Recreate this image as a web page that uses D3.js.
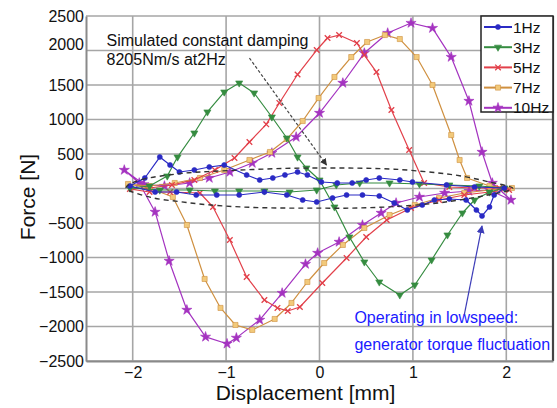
<!DOCTYPE html>
<html>
<head>
<meta charset="utf-8">
<script src="https://cdn.jsdelivr.net/npm/d3@7"></script>
<style>
  body { margin: 0; background: #fff; }
  svg { display: block; font-family: "Liberation Sans", Arial, sans-serif; }
</style>
</head>
<body>
<svg id="chart" width="557" height="408"></svg>
<script>
// tick labels
const xTicks = [-2, -1, 0, 1, 2];
const yTicks = [-2500, -2000, -1500, -1000, -500, 0, 500, 1000, 1500, 2000, 2500];

const seriesNames = ["1Hz", "3Hz", "5Hz", "7Hz", "10Hz"];

const hz1 = [[-2.03,36],[-1.87,152],[-1.71,456],[-1.60,340],[-1.50,239],[-1.34,268],[-1.18,312],[-1.02,340],
  [-0.78,196],[-0.64,123],[-0.50,152],[-0.37,196],[-0.235,239],[-0.13,196],[0.02,94],[0.19,80],[0.35,80],
  [0.50,123],[0.64,152],[0.86,123],[0.995,94],[1.36,51],[1.66,22],[1.98,7],
  [1.87,-94],[1.82,-268],[1.74,-398],[1.68,-312],[1.57,-167],[1.39,-152],[1.23,-167],[1.10,-239],[0.94,-312],
  [0.80,-210],[0.64,-109],[0.46,-94],[0.29,-94],[0.14,-138],[-0.03,-196],[-0.18,-167],[-0.35,-94],[-0.59,-51],
  [-0.86,-94],[-1.10,-94],[-1.32,-94],[-1.53,-51],[-1.76,-51]];

const hz3 = [[-2.03,7],[-1.82,36],[-1.63,181],[-1.52,456],[-1.34,804],[-1.20,1109],[-1.02,1398],[-0.86,1529],
  [-0.70,1384],[-0.51,1036],[-0.35,732],[-0.235,456],[-0.14,297],[0,123],[0.16,-268],[0.32,-703],[0.48,-1065],
  [0.64,-1355],[0.86,-1543],[1.02,-1398],[1.20,-1036],[1.37,-674],[1.53,-355],[1.66,-167],[1.82,-51],[1.98,7],
  [1.71,36],[1.39,51],[1.07,65],[0.75,80],[0.43,80],[0.18,51],[-0.03,-22],[-0.32,-51],[-0.59,-36],[-0.86,-36],
  [-1.12,-36],[-1.39,-22],[-1.71,-22]];

const hz5 = [[-2.03,-7],[-1.82,7],[-1.58,51],[-1.34,123],[-1.12,268],[-0.91,442],[-0.75,674],[-0.57,930],
  [-0.43,1240],[-0.235,1652],[-0.03,2007],[0.086,2181],[0.21,2224],[0.40,2108],[0.48,1934],[0.61,1688],
  [0.77,1138],[0.96,558],[1.12,80],[1.39,22],[1.66,7],[1.925,7],[2.03,-22],
  [1.82,-51],[1.55,-94],[1.28,-167],[0.98,-283],[0.72,-456],[0.50,-703],[0.29,-1007],[0.03,-1369],
  [-0.21,-1717],[-0.34,-1775],[-0.45,-1731],[-0.59,-1616],[-0.78,-1282],[-0.96,-746],[-1.14,-268],
  [-1.28,-65],[-1.60,-51],[-1.82,-51]];

const hz7 = [[-2.05,65],[-1.82,36],[-1.55,80],[-1.28,152],[-1.02,268],[-0.75,413],[-0.53,529],[-0.35,717],
  [-0.18,978],[-0.01,1311],[0.16,1616],[0.34,1905],[0.51,2123],[0.70,2224],[0.86,2166],[1.04,1905],
  [1.21,1500],[1.41,775],[1.50,413],[1.58,152],[1.82,36],[2.06,7],
  [1.82,-22],[1.55,-65],[1.28,-138],[1.02,-239],[0.75,-384],[0.48,-572],[0.25,-818],[0.05,-1080],
  [-0.13,-1355],[-0.30,-1659],[-0.48,-1891],[-0.72,-2050],[-0.90,-1978],[-1.06,-1731],[-1.23,-1311],
  [-1.42,-529],[-1.57,-123],[-1.82,7]];

const hz10 = [[-2.09,268],[-1.93,80],[-1.76,-340],[-1.61,-1050],[-1.42,-1760],[-1.22,-2150],[-0.99,-2250],
  [-0.89,-2165],[-0.64,-1905],[-0.40,-1515],[-0.15,-1095],[-0.02,-935],[0.21,-775],[0.46,-530],[0.66,-355],
  [0.82,-210],[1.07,-123],[1.34,-65],[1.60,-36],[1.82,-22],[2.05,-167],
  [1.85,80],[1.74,529],[1.60,1268],[1.41,1905],[1.21,2325],[0.98,2398],[0.73,2253],[0.48,1963],[0.25,1529],
  [0,1094],[-0.25,746],[-0.51,514],[-0.72,369],[-0.96,239],[-1.18,152],[-1.39,80],[-1.66,36],[-1.88,60]];

// simulated constant damping loop (dashed)
const dampSim = [[-2.07,0],[-1.9,130],[-1.5,215],[-1.2,245],[-0.8,270],[-0.4,290],[0,297],[0.4,295],[0.8,280],
  [1.2,235],[1.5,185],[1.8,100],[2.07,0],[1.8,-95],[1.5,-165],[1.2,-220],[0.8,-262],[0.4,-283],[0,-285],
  [-0.4,-283],[-0.8,-270],[-1.2,-235],[-1.5,-190],[-1.8,-130]];

const seriesData = [hz1, hz3, hz5, hz7, hz10];

const styles = {
  "1Hz":  { color: "#2a2ac4", fill: "#2a2ac4", symbol: d3.symbolCircle, size: 20, rotate: 0 },
  "3Hz":  { color: "#358c40", fill: "#358c40", symbol: d3.symbolTriangle, size: 22, rotate: 180 },
  "5Hz":  { color: "#e2404a", fill: "none", symbol: d3.symbolTimes || d3.symbolCross, size: 22, rotate: d3.symbolTimes ? 0 : 45 },
  "7Hz":  { color: "#cf9040", fill: "#f2c97a", symbol: d3.symbolSquare, size: 26, rotate: 0 },
  "10Hz": { color: "#a433c0", fill: "#a433c0", symbol: d3.symbolStar, size: 32, rotate: 0 }
};

const margin = { top: 16, right: 4, bottom: 47, left: 86 };
const svg = d3.select("#chart");
const width = 557 - margin.left - margin.right;
const height = 408 - margin.top - margin.bottom;

const x = d3.scaleLinear().domain([-2.5, 2.5]).range([0, width]);
const y = d3.scaleLinear().domain([-2500, 2500]).range([height, 0]);

const g = svg.append("g").attr("transform", `translate(${margin.left},${margin.top})`);

// grid
g.append("g").selectAll("line").data(yTicks).join("line")
  .attr("x1", 0).attr("x2", width)
  .attr("y1", d => y(d)).attr("y2", d => y(d))
  .attr("stroke", "#a6a6a6").attr("stroke-width", 1.6);
g.append("g").selectAll("line").data(xTicks).join("line")
  .attr("x1", d => x(d)).attr("x2", d => x(d))
  .attr("y1", 0).attr("y2", height)
  .attr("stroke", "#a6a6a6").attr("stroke-width", 1.6);

// frame
g.append("line").attr("x1", width).attr("x2", width).attr("y1", 0).attr("y2", height)
  .attr("stroke", "#444").attr("stroke-width", 2.2);

// axes
const yAxis = g.append("g").call(d3.axisLeft(y).tickValues(yTicks).tickSize(0).tickPadding(2).tickFormat(d3.format("d")));
const xAxis = g.append("g").attr("transform", `translate(0,${height})`)
  .call(d3.axisBottom(x).tickValues(xTicks).tickSize(0).tickPadding(6).tickFormat(d3.format("d")));
[yAxis, xAxis].forEach(a => {
  a.select(".domain").attr("stroke", "#8a8a8a").attr("stroke-width", 2);
  a.selectAll("text").attr("font-size", 16).attr("fill", "#111")
    .attr("font-family", "'Liberation Sans', Arial, sans-serif");
});
// the original figure has a couple of labels nudged off their grid line
const labelNudge = { 2000: -6, 0: -14 };
yAxis.selectAll(".tick text").attr("dy", d => `${0.32 + (labelNudge[d] || 0) / 16}em`);

// arrowheads
const defs = svg.append("defs");
defs.append("marker").attr("id", "arrowDark").attr("viewBox", "0 0 10 10")
  .attr("refX", 9).attr("refY", 5).attr("markerWidth", 7).attr("markerHeight", 7)
  .attr("markerUnits", "userSpaceOnUse").attr("orient", "auto")
  .append("path").attr("d", "M0,0L10,5L0,10z").attr("fill", "#333");
defs.append("marker").attr("id", "arrowBlue").attr("viewBox", "0 0 10 10")
  .attr("refX", 9).attr("refY", 5).attr("markerWidth", 8).attr("markerHeight", 8)
  .attr("markerUnits", "userSpaceOnUse").attr("orient", "auto")
  .append("path").attr("d", "M0,0L10,5L0,10z").attr("fill", "#3c3cb8");

const line = d3.line().x(d => x(d[0])).y(d => y(d[1])).curve(d3.curveLinearClosed);

// series, drawn from 10Hz back to 1Hz
const order = [4, 3, 2, 1, 0];
order.forEach(i => {
  const name = seriesNames[i];
  const st = styles[name];
  const s = g.append("g");
  s.append("path").datum(seriesData[i]).attr("d", line)
    .attr("fill", "none").attr("stroke", st.color).attr("stroke-width", 1.2).attr("stroke-linejoin", "round");
  s.selectAll("path.pt").data(seriesData[i]).join("path").attr("class", "pt")
    .attr("d", d3.symbol().type(st.symbol).size(st.size))
    .attr("transform", d => `translate(${x(d[0])},${y(d[1])}) rotate(${st.rotate})`)
    .attr("fill", st.fill).attr("stroke", st.color).attr("stroke-width", st.fill === "none" ? 1.3 : 0.6);
});

// simulated damping loop
g.append("path").datum(dampSim)
  .attr("d", d3.line().x(d => x(d[0])).y(d => y(d[1])).curve(d3.curveCardinalClosed))
  .attr("fill", "none").attr("stroke", "#333").attr("stroke-width", 1.4).attr("stroke-dasharray", "5,4");

// annotations
g.append("text").attr("x", x(-2.28)).attr("y", y(2065)).attr("font-size", 16).attr("fill", "#111")
  .text("Simulated constant damping");
g.append("text").attr("x", x(-2.28)).attr("y", y(1790)).attr("font-size", 16).attr("fill", "#111")
  .text("8205Nm/s at2Hz");
g.append("line")
  .attr("x1", x(-0.75)).attr("y1", y(1890)).attr("x2", x(0.075)).attr("y2", y(340))
  .attr("stroke", "#444").attr("stroke-width", 1.2).attr("stroke-dasharray", "3,2")
  .attr("marker-end", "url(#arrowDark)");

g.append("text").attr("x", x(0.374)).attr("y", y(-1950)).attr("font-size", 16).attr("fill", "#1a1aff")
  .text("Operating in lowspeed:");
g.append("text").attr("x", x(0.374)).attr("y", y(-2340)).attr("font-size", 16).attr("fill", "#1a1aff")
  .text("generator torque fluctuation");
g.append("line")
  .attr("x1", x(1.55)).attr("y1", y(-1833)).attr("x2", x(1.74)).attr("y2", y(-543))
  .attr("stroke", "#3c3cb8").attr("stroke-width", 1.2)
  .attr("marker-end", "url(#arrowBlue)");

// axis titles
svg.append("text").attr("x", margin.left + x(-0.15)).attr("y", 400)
  .attr("text-anchor", "middle").attr("font-size", 21).attr("fill", "#111")
  .text("Displacement [mm]");
svg.append("text").attr("transform", "translate(35,197) rotate(-90)")
  .attr("text-anchor", "middle").attr("font-size", 21).attr("fill", "#111")
  .text("Force [N]");

// legend
const legend = g.append("g").attr("transform", `translate(${width - 72},0)`);
legend.append("rect").attr("width", 72).attr("height", 96)
  .attr("fill", "#fff").attr("stroke", "#222").attr("stroke-width", 1.5);
seriesNames.forEach((name, i) => {
  const st = styles[name];
  const row = legend.append("g").attr("transform", `translate(0,${11 + i * 20.2})`);
  row.append("line").attr("x1", 3).attr("x2", 31).attr("stroke", st.color).attr("stroke-width", 2);
  row.append("path").attr("d", d3.symbol().type(st.symbol).size(st.size))
    .attr("transform", `translate(17,0) rotate(${st.rotate})`)
    .attr("fill", st.fill).attr("stroke", st.color).attr("stroke-width", st.fill === "none" ? 1.3 : 0.6);
  row.append("text").attr("x", 32).attr("dy", "0.36em").attr("font-size", 15.5).attr("fill", "#111").text(name);
});
</script>
</body>
</html>
